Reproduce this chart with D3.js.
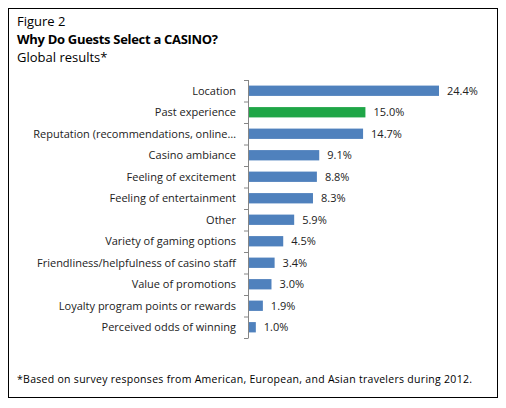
<!DOCTYPE html>
<html><head><meta charset="utf-8">
<script src="https://cdn.jsdelivr.net/npm/d3@7"></script>
<style>body{margin:0;background:#fff}</style></head>
<body><svg id="c" width="506" height="408"></svg>
<script>
const categories=["Location","Past experience","Reputation (recommendations, online\u2026","Casino ambiance","Feeling of excitement","Feeling of entertainment","Other","Variety of gaming options","Friendliness/helpfulness of casino staff","Value of promotions","Loyalty program points or rewards","Perceived odds of winning"];
const values=[24.4,15.0,14.7,9.1,8.8,8.3,5.9,4.5,3.4,3.0,1.9,1.0];
const highlight="Past experience";
const svg=d3.select("#c");
const F="'Open Sans', 'DejaVu Sans', sans-serif";
svg.append("rect").attr("x",8.5).attr("y",8.5).attr("width",489).attr("height",389).attr("fill","#fff").attr("stroke","#000").attr("stroke-width",1);
svg.append("text").attr("x",17).attr("y",26).attr("font-family",F).attr("font-size",13).text("Figure 2");
svg.append("text").attr("x",17).attr("y",44).attr("font-family",F).attr("font-size",13).attr("font-weight","bold").attr("letter-spacing",-0.3).text("Why Do Guests Select a CASINO?");
svg.append("text").attr("x",17).attr("y",62).attr("font-family",F).attr("font-size",13).text("Global results*");
const x=d3.scaleLinear().domain([0,24.4]).range([248,439]);
const y=d3.scaleBand().domain(categories).range([80,338]).paddingInner(0.52).paddingOuter(0.26);
const g=svg.append("g");
g.selectAll("rect.b").data(categories).join("rect").attr("x",x(0)).attr("y",d=>y(d)).attr("width",(d,i)=>x(values[i])-x(0)).attr("height",y.bandwidth()).attr("fill",d=>d===highlight?"#1fa647":"#4f81bd");
g.append("line").attr("x1",248.5).attr("x2",248.5).attr("y1",80).attr("y2",338).attr("stroke","#868686");
d3.range(13).forEach(i=>g.append("line").attr("x1",244).attr("x2",248.5).attr("y1",80+i*258/12+0.5).attr("y2",80+i*258/12+0.5).attr("stroke","#868686"));
g.selectAll("text.l").data(categories).join("text").attr("x",236).attr("y",d=>y(d)+y.bandwidth()/2).attr("dy","0.35em").attr("text-anchor","end").attr("font-family",F).attr("font-size",11).attr("fill","#222").text(d=>d);
g.selectAll("text.v").data(values).join("text").attr("x",(d)=>x(d)+8).attr("y",(d,i)=>y(categories[i])+y.bandwidth()/2).attr("dy","0.35em").attr("font-family",F).attr("font-size",11).attr("fill","#222").text(d=>d.toFixed(1)+"%");
svg.append("text").attr("x",17).attr("y",383).attr("font-family",F).attr("font-size",10.5).attr("textLength",455).text("*Based on survey responses from American, European, and Asian travelers during 2012.");
</script></body></html>
